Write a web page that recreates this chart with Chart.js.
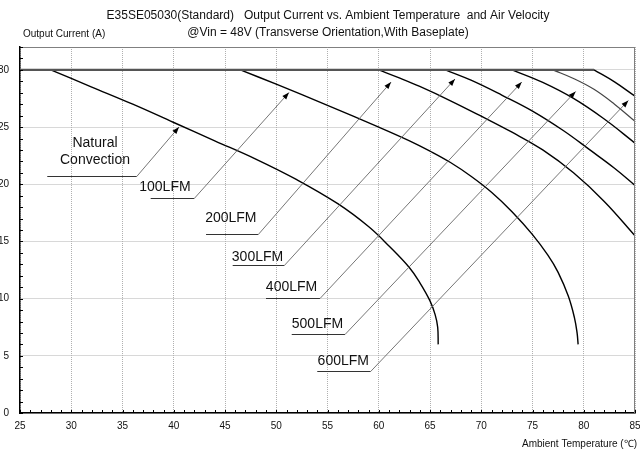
<!DOCTYPE html>
<html>
<head>
<meta charset="utf-8">
<title>E35SE05030 Output Current vs. Ambient Temperature</title>
<script src="https://cdn.jsdelivr.net/npm/chart.js@4.4.1/dist/chart.umd.min.js"></script>
<style>
  html, body { margin: 0; padding: 0; background: #fff; }
  canvas { display: block; }
</style>
</head>
<body>
<canvas id="deratingChart" width="640" height="452"></canvas>
<script>
// values: ambient temperature (C) -> output current (A)
const naturalTemp = [28, 32, 36, 40, 44, 48, 52, 56, 59, 61, 63, 64, 65, 65.5, 65.75, 65.8];
const naturalCurrent = [30, 28.5, 27.0, 25.4, 23.8, 22.2, 20.4, 18.3, 16.3, 14.6, 12.7, 11.4, 9.8, 8.6, 7.5, 6.0];

const lfm100Temp = [46.5, 50, 55, 60, 63, 65, 67, 69, 71, 73, 75, 76.5, 77.5, 78.5, 79.1, 79.35, 79.45];
const lfm100Current = [30, 28.75, 26.9, 25.0, 23.8, 22.9, 21.9, 20.7, 19.3, 17.6, 15.6, 13.8, 12.3, 10.2, 8.3, 7.0, 6.0];

const lfm200Temp = [60, 62, 64, 67, 70, 73, 76, 79, 82, 85];
const lfm200Current = [30, 29.3, 28.55, 27.3, 25.95, 24.55, 23.0, 21.0, 18.5, 15.5];

const lfm300Temp = [66.5, 69, 72, 75, 78, 80.6, 83, 85];
const lfm300Current = [30, 29.1, 27.8, 26.4, 24.7, 23.0, 21.4, 19.9];

const lfm400Temp = [73, 76, 79, 82, 85];
const lfm400Current = [30, 28.9, 27.5, 25.7, 23.6];

const lfm500Temp = [77, 79, 81, 83, 85];
const lfm500Current = [30, 29.25, 28.3, 27.0, 25.5];

const lfm600Temp = [81, 83, 85];
const lfm600Current = [30, 28.95, 27.7];

// shared 30A limit
const plateauTemp = [25, 81];
const plateauCurrent = [30, 30];

const tempTicks = [25, 30, 35, 40, 45, 50, 55, 60, 65, 70, 75, 80, 85];
const currentTicks = [0, 5, 10, 15, 20, 25, 30];

const titleLines = [
    'E35SE05030(Standard)   Output Current vs. Ambient Temperature  and Air Velocity',
    '@Vin = 48V (Transverse Orientation,With Baseplate)'
];
const yAxisTitle = 'Output Current (A)';
const xAxisTitle = 'Ambient Temperature (\u2103)';

// labels with leader arrows, in chart units
const callouts = [
    {text: ['Natural', 'Convection'], tx: 32.32, ty: 22.81, x0: 27.66, x1: 36.39, y: 20.76, tipX: 40.51, tipY: 25.0},
    {text: ['100LFM'], tx: 39.14, ty: 19.71, x0: 37.75, x1: 42.0, y: 18.78, tipX: 51.24, tipY: 28.02},
    {text: ['200LFM'], tx: 45.57, ty: 17.02, x0: 43.15, x1: 48.25, y: 15.66, tipX: 61.2, tipY: 28.93},
    {text: ['300LFM'], tx: 48.17, ty: 13.67, x0: 45.75, x1: 50.79, y: 12.95, tipX: 67.44, tipY: 29.2},
    {text: ['400LFM'], tx: 51.49, ty: 11.02, x0: 49.0, x1: 54.27, y: 10.09, tipX: 73.95, tipY: 28.93},
    {text: ['500LFM'], tx: 54.02, ty: 7.79, x0: 51.51, x1: 56.71, y: 6.89, tipX: 79.21, tipY: 28.11},
    {text: ['600LFM'], tx: 56.54, ty: 4.55, x0: 54.0, x1: 59.21, y: 3.7, tipX: 84.35, tipY: 27.32}
];

const FONT = "'Liberation Sans', Arial, sans-serif";

function curve(label, temps, currents, color, width) {
    return {
        label: label,
        data: temps.map((t, i) => ({x: t, y: currents[i]})),
        borderColor: color,
        borderWidth: width,
        pointRadius: 0,
        showLine: true,
        tension: 0.4,
        fill: false
    };
}

const deratingPlugin = {
    id: 'derating',
    afterDatasetsDraw(chart) {
        const ctx = chart.ctx;
        const xs = chart.scales.x;
        const ys = chart.scales.y;
        const area = chart.chartArea;

        ctx.save();
        // frame: top and right edges
        ctx.strokeStyle = '#808080';
        ctx.lineWidth = 1;
        ctx.beginPath();
        ctx.moveTo(area.left, area.top + 0.5);
        ctx.lineTo(area.right, area.top + 0.5);
        ctx.moveTo(area.right - 0.5, area.top);
        ctx.lineTo(area.right - 0.5, area.bottom);
        ctx.stroke();

        // minor ticks, pointing inward
        ctx.strokeStyle = '#000';
        ctx.beginPath();
        for (let v = ys.min; v <= ys.max; v++) {
            const py = Math.round(ys.getPixelForValue(v)) + 0.5;
            ctx.moveTo(area.left, py);
            ctx.lineTo(area.left + 3, py);
        }
        for (let v = xs.min; v <= xs.max; v++) {
            const px = Math.round(xs.getPixelForValue(v)) + 0.5;
            ctx.moveTo(px, area.bottom);
            ctx.lineTo(px, area.bottom - 3);
        }
        ctx.stroke();

        // callouts
        callouts.forEach(c => {
            const ux0 = xs.getPixelForValue(c.x0);
            const ux1 = xs.getPixelForValue(c.x1);
            const uy = Math.round(ys.getPixelForValue(c.y)) + 0.5;
            const tx = xs.getPixelForValue(c.tipX);
            const ty = ys.getPixelForValue(c.tipY);

            ctx.strokeStyle = '#333';
            ctx.lineWidth = 1.2;
            ctx.beginPath();
            ctx.moveTo(ux0, uy);
            ctx.lineTo(ux1, uy);
            ctx.stroke();

            ctx.strokeStyle = '#666';
            ctx.lineWidth = 0.9;
            ctx.beginPath();
            ctx.moveTo(ux1, uy);
            ctx.lineTo(tx, ty);
            ctx.stroke();

            // arrow head
            const ang = Math.atan2(ty - uy, tx - ux1);
            const len = 7, half = 2.6;
            ctx.fillStyle = '#000';
            ctx.beginPath();
            ctx.moveTo(tx, ty);
            ctx.lineTo(tx - len * Math.cos(ang) + half * Math.sin(ang), ty - len * Math.sin(ang) - half * Math.cos(ang));
            ctx.lineTo(tx - len * Math.cos(ang) - half * Math.sin(ang), ty - len * Math.sin(ang) + half * Math.cos(ang));
            ctx.closePath();
            ctx.fill();

            // label text
            ctx.fillStyle = '#111';
            ctx.font = '14px ' + FONT;
            ctx.textAlign = 'center';
            ctx.textBaseline = 'middle';
            const cx = xs.getPixelForValue(c.tx);
            const cy = ys.getPixelForValue(c.ty);
            const lh = 17;
            c.text.forEach((line, i) => {
                ctx.fillText(line, cx, cy + (i - (c.text.length - 1) / 2) * lh);
            });
        });
        ctx.restore();
    },
    afterDraw(chart) {
        const ctx = chart.ctx;
        ctx.save();
        ctx.fillStyle = '#111';
        ctx.textBaseline = 'middle';
        ctx.textAlign = 'center';
        ctx.font = '12px ' + FONT;
        ctx.fillText(titleLines[0], 328, 16);
        ctx.fillText(titleLines[1], 328, 33);

        ctx.font = '10px ' + FONT;
        ctx.textAlign = 'left';
        ctx.fillText(yAxisTitle, 23, 34);
        ctx.textAlign = 'right';
        ctx.fillText(xAxisTitle, 637, 444);
        ctx.restore();
    }
};

const ctx = document.getElementById('deratingChart');
new Chart(ctx, {
    type: 'scatter',
    data: {
        datasets: [
            curve('30A limit', plateauTemp, plateauCurrent, '#555', 2.4),
            curve('Natural Convection', naturalTemp, naturalCurrent, '#000', 1.4),
            curve('100LFM', lfm100Temp, lfm100Current, '#000', 1.4),
            curve('200LFM', lfm200Temp, lfm200Current, '#000', 1.4),
            curve('300LFM', lfm300Temp, lfm300Current, '#000', 1.4),
            curve('400LFM', lfm400Temp, lfm400Current, '#000', 1.4),
            curve('500LFM', lfm500Temp, lfm500Current, '#444', 1.2),
            curve('600LFM', lfm600Temp, lfm600Current, '#000', 1.4)
        ]
    },
    options: {
        responsive: false,
        animation: false,
        layout: {padding: {left: 0, right: 5, top: 47, bottom: 0}},
        plugins: {
            legend: {display: false},
            tooltip: {enabled: false}
        },
        scales: {
            x: {
                type: 'linear',
                min: 25,
                max: 85,
                afterBuildTicks: axis => { axis.ticks = tempTicks.map(v => ({value: v})); },
                afterFit: axis => {
                    axis.height = 39;
                    axis.paddingLeft = 0;
                    axis.paddingRight = 0;
                },
                grid: {color: '#b0b0b0', lineWidth: 1, drawTicks: false},
                border: {display: true, color: '#000', width: 1.5, dash: [1, 1]},
                ticks: {padding: 7, color: '#111', font: {family: FONT, size: 10}, maxRotation: 0}
            },
            y: {
                min: 0,
                max: 32,
                afterBuildTicks: axis => { axis.ticks = currentTicks.map(v => ({value: v})); },
                afterFit: axis => {
                    axis.width = 20;
                    axis.paddingTop = 0;
                    axis.paddingBottom = 0;
                },
                grid: {color: '#b0b0b0', lineWidth: 1, drawTicks: false},
                border: {display: true, color: '#000', width: 1.5, dash: [1, 1]},
                ticks: {padding: 11, color: '#111', font: {family: FONT, size: 10}}
            }
        }
    },
    plugins: [deratingPlugin]
});
</script>
</body>
</html>
